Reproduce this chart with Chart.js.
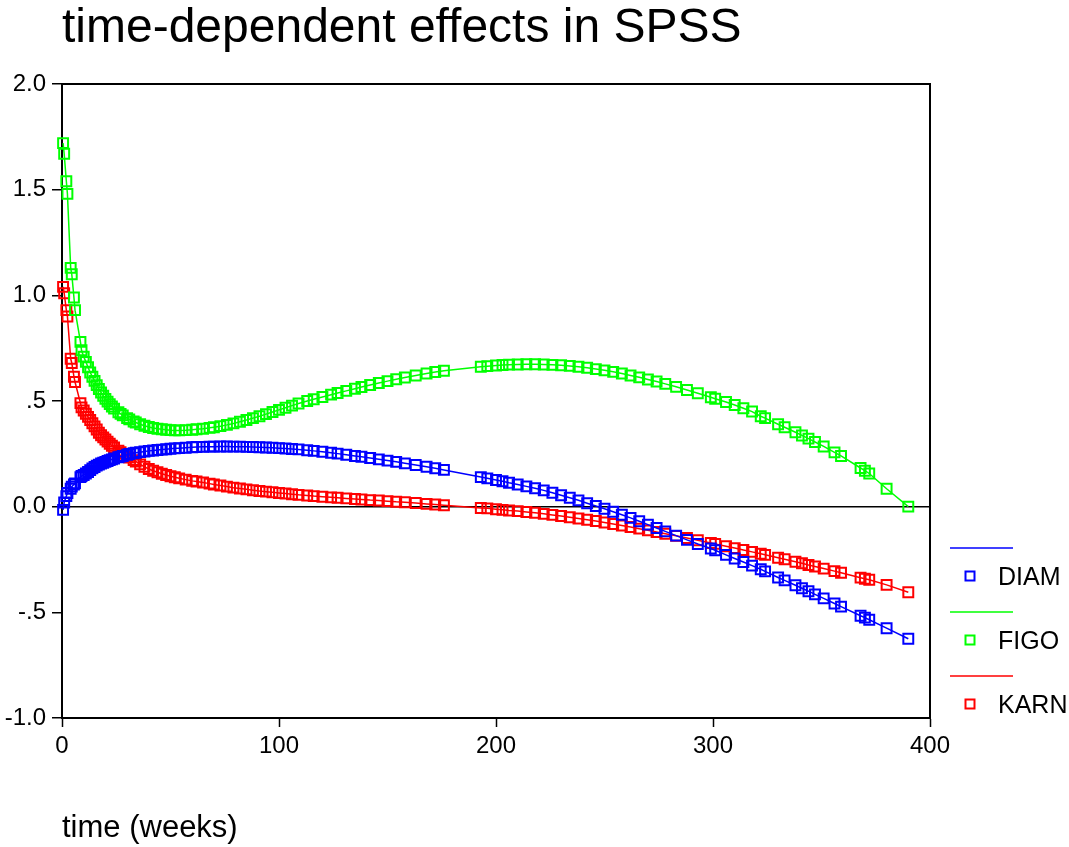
<!DOCTYPE html>
<html>
<head>
<meta charset="utf-8">
<title>time-dependent effects in SPSS</title>
<script src="https://cdn.jsdelivr.net/npm/chart.js@4.4.1/dist/chart.umd.min.js"></script>
<style>
  html, body { margin: 0; padding: 0; background: #fff; }
  #wrap { position: relative; width: 1069px; height: 847px; }
</style>
</head>
<body>
<div id="wrap"><canvas id="effectsChart"></canvas></div>
<script>
// Event times (weeks) and the estimated time-dependent coefficients at each one
const weeks = [
  0.5, 1, 2, 2.5, 4, 4.5, 5.5, 6, 8.5, 9,
  10, 11, 12, 13, 14, 15, 16, 17, 18, 19,
  20, 21, 22, 23, 24, 26, 27, 28, 30, 31,
  33, 34, 36, 38, 40, 42, 44, 46, 48, 50,
  52, 54, 57, 60, 62, 65, 68, 70, 73, 76,
  79, 82, 85, 88, 91, 94, 97, 100, 103, 106,
  109, 113, 116, 120, 124, 127, 131, 135, 138, 142,
  146, 150, 154, 158, 163, 168, 172, 176, 193, 196,
  200, 203, 206, 210, 214, 218, 222, 226, 230, 234,
  238, 242, 246, 250, 254, 258, 262, 266, 270, 274,
  278, 283, 288, 293, 299, 301, 306, 310, 314, 318,
  322, 324, 330, 333, 338, 341, 344, 347, 351, 356,
  359, 368, 370, 372, 380, 390
];

const diam = [
  -0.015, 0.02, 0.05, 0.065, 0.085, 0.095, 0.105, 0.11, 0.14, 0.145,
  0.15, 0.157, 0.164, 0.173, 0.181, 0.188, 0.194, 0.199, 0.204, 0.208,
  0.212, 0.216, 0.220, 0.224, 0.228, 0.234, 0.237, 0.240, 0.246, 0.249,
  0.253, 0.255, 0.258, 0.261, 0.264, 0.266, 0.268, 0.270, 0.272, 0.274,
  0.276, 0.277, 0.279, 0.281, 0.282, 0.283, 0.284, 0.284, 0.285, 0.285,
  0.284, 0.284, 0.283, 0.282, 0.281, 0.280, 0.279, 0.277, 0.275, 0.273,
  0.271, 0.267, 0.264, 0.260, 0.255, 0.251, 0.246, 0.240, 0.236, 0.230,
  0.224, 0.218, 0.212, 0.205, 0.197, 0.189, 0.182, 0.174, 0.140, 0.134,
  0.126, 0.120, 0.113, 0.105, 0.096, 0.087, 0.077, 0.066, 0.054, 0.042,
  0.030, 0.016, 0.003, -0.010, -0.024, -0.038, -0.053, -0.069, -0.085, -0.101,
  -0.117, -0.137, -0.157, -0.177, -0.198, -0.206, -0.228, -0.245, -0.262, -0.279,
  -0.296, -0.306, -0.335, -0.349, -0.372, -0.386, -0.400, -0.415, -0.434, -0.458,
  -0.473, -0.516, -0.525, -0.535, -0.575, -0.625
];

const figo = [
  1.72, 1.67, 1.54, 1.48, 1.13, 1.10, 0.99, 0.93, 0.78, 0.74,
  0.71, 0.685, 0.66, 0.635, 0.615, 0.595, 0.575, 0.557, 0.54, 0.525,
  0.51, 0.497, 0.485, 0.474, 0.464, 0.447, 0.439, 0.432, 0.419, 0.413,
  0.403, 0.398, 0.390, 0.383, 0.377, 0.372, 0.369, 0.366, 0.364, 0.362,
  0.361, 0.361, 0.362, 0.364, 0.366, 0.369, 0.373, 0.376, 0.381, 0.387,
  0.394, 0.402, 0.410, 0.419, 0.428, 0.438, 0.448, 0.458, 0.468, 0.478,
  0.488, 0.500, 0.508, 0.519, 0.530, 0.538, 0.548, 0.558, 0.566, 0.576,
  0.585, 0.594, 0.603, 0.611, 0.621, 0.630, 0.637, 0.643, 0.662, 0.665,
  0.668, 0.670, 0.672, 0.673, 0.674, 0.674, 0.673, 0.671, 0.669, 0.666,
  0.662, 0.657, 0.651, 0.645, 0.638, 0.630, 0.621, 0.612, 0.602, 0.592,
  0.581, 0.567, 0.552, 0.537, 0.518, 0.511, 0.495, 0.481, 0.466, 0.450,
  0.428, 0.419, 0.390, 0.376, 0.352, 0.337, 0.322, 0.306, 0.285, 0.257,
  0.240, 0.183, 0.170, 0.157, 0.085, 0.0
];

const karn = [
  1.04, 1.01, 0.93, 0.90, 0.70, 0.68, 0.615, 0.59, 0.49, 0.47,
  0.455, 0.44, 0.425, 0.41, 0.395, 0.38, 0.365, 0.35, 0.338, 0.328,
  0.318, 0.308, 0.298, 0.288, 0.280, 0.265, 0.258, 0.250, 0.238, 0.232,
  0.220, 0.214, 0.200, 0.189, 0.178, 0.170, 0.163, 0.156, 0.150, 0.144,
  0.139, 0.134, 0.128, 0.122, 0.119, 0.114, 0.109, 0.105, 0.100, 0.095,
  0.090, 0.086, 0.082, 0.078, 0.074, 0.071, 0.068, 0.065, 0.062, 0.059,
  0.056, 0.053, 0.050, 0.047, 0.044, 0.042, 0.039, 0.036, 0.034, 0.031,
  0.029, 0.026, 0.023, 0.021, 0.017, 0.013, 0.010, 0.007, -0.006, -0.008,
  -0.012, -0.015, -0.018, -0.021, -0.025, -0.029, -0.034, -0.039, -0.044, -0.050,
  -0.056, -0.062, -0.068, -0.075, -0.082, -0.089, -0.096, -0.104, -0.112, -0.120,
  -0.128, -0.138, -0.148, -0.159, -0.172, -0.176, -0.187, -0.196, -0.205, -0.214,
  -0.223, -0.228, -0.242, -0.249, -0.261, -0.268, -0.276, -0.283, -0.293, -0.305,
  -0.313, -0.336, -0.341, -0.346, -0.370, -0.405
];

const yTickLabels = { '2': '2.0', '1.5': '1.5', '1': '1.0', '0.5': '.5', '0': '0.0', '-0.5': '-.5', '-1': '-1.0' };
const chartTitle = 'time-dependent effects in SPSS';
const FONT = '"Liberation Sans", Arial, Helvetica, sans-serif';

function series(label, values, color) {
  return {
    label: label,
    data: weeks.map((t, i) => ({ x: t, y: values[i] })),
    showLine: true,
    borderColor: color,
    borderWidth: 1.5,
    pointStyle: 'rect',
    pointRadius: 7,
    pointBorderWidth: 2,
    pointBorderColor: color,
    pointBackgroundColor: 'rgba(0,0,0,0)',
    tension: 0,
    clip: false
  };
}

// Title, closed frame and the line/marker legend are drawn by hand
const decorations = {
  id: 'decorations',
  afterDraw(chart) {
    const { ctx, chartArea: a } = chart;
    ctx.save();
    ctx.strokeStyle = '#000';
    ctx.lineWidth = 2;
    ctx.beginPath();
    ctx.moveTo(a.left, a.top);
    ctx.lineTo(a.right, a.top);
    ctx.lineTo(a.right, a.bottom);
    ctx.stroke();

    ctx.fillStyle = '#000';
    ctx.font = '48px ' + FONT;
    ctx.textBaseline = 'alphabetic';
    ctx.textAlign = 'left';
    ctx.fillText(chartTitle, a.left, 42);

    ctx.font = '25px ' + FONT;
    ctx.textBaseline = 'middle';
    chart.data.datasets.forEach((ds, i) => {
      const y = 548 + i * 64;
      ctx.strokeStyle = ds.borderColor;
      ctx.lineWidth = 1.5;
      ctx.beginPath();
      ctx.moveTo(a.right + 20, y);
      ctx.lineTo(a.right + 83, y);
      ctx.stroke();
      ctx.lineWidth = 2;
      ctx.strokeRect(a.right + 35.5, y + 23.5, 9, 9);
      ctx.fillStyle = '#000';
      ctx.fillText(ds.label, a.right + 68, y + 30);
    });
    ctx.restore();
  }
};

const ctx = document.getElementById('effectsChart').getContext('2d');
const effectsChart = new Chart(ctx, {
  type: 'scatter',
  data: {
    datasets: [
      series('DIAM', diam, '#0000ff'),
      series('FIGO', figo, '#00ff00'),
      series('KARN', karn, '#ff0000')
    ]
  },
  options: {
    responsive: true,
    maintainAspectRatio: false,
    animation: false,
    layout: { padding: { top: 84, right: 139, bottom: 0, left: 0 } },
    plugins: {
      legend: { display: false },
      tooltip: { enabled: false }
    },
    scales: {
      x: {
        type: 'linear',
        min: 0,
        max: 400,
        afterFit(scale) { scale.height = 129; },
        border: { display: true, color: '#000', width: 2 },
        grid: { drawOnChartArea: false, tickLength: 9, tickColor: '#000', tickWidth: 1.5 },
        ticks: { stepSize: 100, color: '#000', padding: 5, maxRotation: 0, font: { family: FONT, size: 24 } },
        title: {
          display: true,
          text: 'time (weeks)',
          align: 'start',
          color: '#000',
          font: { family: FONT, size: 31 },
          padding: { top: 0, bottom: 0 }
        }
      },
      y: {
        type: 'linear',
        min: -1,
        max: 2,
        afterFit(scale) { scale.width = 62; },
        border: { display: true, color: '#000', width: 2 },
        grid: {
          drawOnChartArea: true,
          tickLength: 10,
          tickColor: '#000',
          tickWidth: 1.5,
          lineWidth: 1.5,
          color: (c) => (c.tick && c.tick.value === 0 ? '#000' : 'rgba(0,0,0,0)')
        },
        ticks: {
          stepSize: 0.5,
          color: '#000',
          padding: 6,
          font: { family: FONT, size: 24 },
          callback: (v) => yTickLabels[String(v)] ?? ''
        }
      }
    }
  },
  plugins: [decorations]
});
</script>
</body>
</html>
